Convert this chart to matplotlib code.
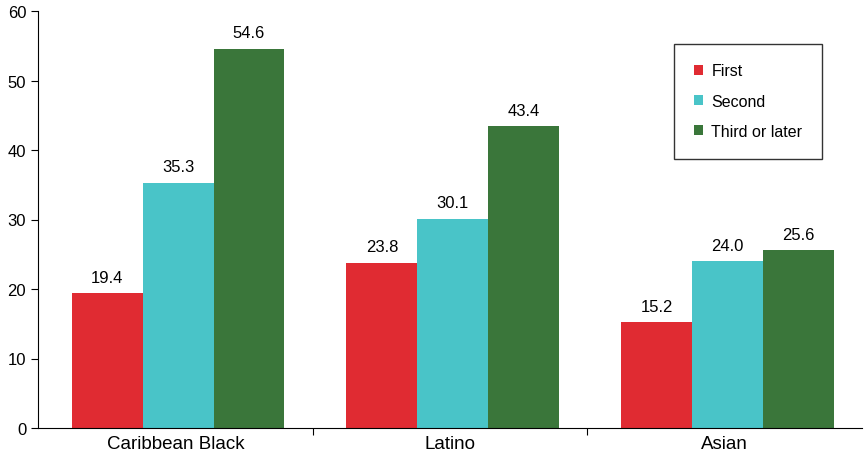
import matplotlib
matplotlib.use("Agg")
import matplotlib.pyplot as plt
import numpy as np

plt.rcParams['font.family'] = ['Liberation Sans', 'DejaVu Sans']

categories = ["Caribbean Black", "Latino", "Asian"]
series = ["First", "Second", "Third or later"]
first = [19.4, 23.8, 15.2]
second = [35.3, 30.1, 24.0]
third = [54.6, 43.4, 25.6]
colors = ["#E02B32", "#49C4C8", "#3A763A"]

fig = plt.figure(figsize=(8.65, 4.6), dpi=100)
ax = fig.add_axes([38/865, 31/460, 824/865, 417/460])
x = np.arange(len(categories))
w = 0.258
for i, (vals, name) in enumerate(zip([first, second, third], series)):
    pos = x + (i - 1) * w + 0.01
    ax.bar(pos, vals, w, color=colors[i], label=name)
    for p, v in zip(pos, vals):
        ax.text(p, v + 1.2, f"{v:.1f}", ha='center', va='bottom', fontsize=12)

ax.set_xlim(-0.5, 2.5)
ax.set_ylim(0, 60)
ax.set_yticks(range(0, 61, 10))
ax.set_xticks([0.5, 1.5], minor=False)
ax.set_xticklabels([])
ax.set_xticks(x, minor=True)
ax.set_xticklabels(categories, minor=True, fontsize=13.5)
ax.tick_params(axis='x', which='minor', length=0, pad=5)
ax.tick_params(axis='x', which='major', length=5, direction='out')
ax.tick_params(axis='y', labelsize=12, length=5, direction='out')
for s in ['top', 'right']:
    ax.spines[s].set_visible(False)

leg = ax.legend(loc='upper right', bbox_to_anchor=(0.952, 0.922), fontsize=11.5,
                frameon=True, fancybox=False, edgecolor='black',
                handlelength=0.6, handleheight=0.6, labelspacing=0.95,
                borderpad=1.25, handletextpad=0.5, borderaxespad=0)
leg.get_frame().set_linewidth(1.0)

fig.savefig("out.png", dpi=100)
